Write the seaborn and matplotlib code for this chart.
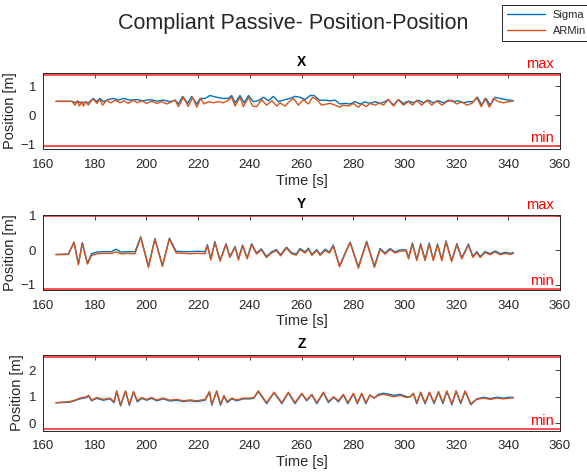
import matplotlib
matplotlib.use("Agg")
import matplotlib.pyplot as plt
import seaborn as sns
import pandas as pd

# ---------------- data ----------------
series_names = ["Sigma", "ARMin"]
panel_titles = ["X", "Y", "Z"]
x_ticks = [160, 180, 200, 220, 240, 260, 280, 300, 320, 340, 360]

# X panel
sigma_x_t = [165, 171.0, 172.5, 173.8, 175.0, 176.3, 177.5, 178.5, 179.5, 180.8, 182.0, 183.3, 185.3, 187.2,
             189.1, 191.1, 193.7, 196.2, 198.8, 201.4, 204.0, 206.6, 209.1, 211.1, 212.4, 214.0, 216.0, 217.5,
             219.5, 220.8, 222.7, 224.6, 227.2, 229.8, 231.7, 233.0, 234.3, 236.2, 237.8, 239.5, 241.4, 243.3,
             245.3, 247.2, 249.1, 251.1, 253.6, 255.6, 257.5, 259.4, 261.4, 263.3, 264.9, 266.9, 269.1, 271.1,
             273.0, 274.9, 276.9, 278.8, 280.7, 282.7, 284.6, 286.5, 288.5, 290.4, 292.3, 293.6, 295.6, 297.5,
             299.4, 301.4, 303.3, 305.2, 307.2, 309.1, 311.0, 313.0, 314.9, 316.9, 318.8, 320.7, 322.7, 324.6,
             326.5, 328.1, 329.7, 331.4, 333.0, 334.9, 336.9, 338.8, 340.7, 342.0]
sigma_x = [0.48, 0.48, 0.44, 0.47, 0.42, 0.46, 0.43, 0.50, 0.58, 0.47, 0.58, 0.47, 0.54, 0.58,
           0.52, 0.58, 0.52, 0.54, 0.50, 0.54, 0.49, 0.52, 0.47, 0.52, 0.39, 0.65, 0.41, 0.65,
           0.39, 0.58, 0.58, 0.68, 0.62, 0.58, 0.58, 0.68, 0.43, 0.68, 0.43, 0.68, 0.47, 0.50,
           0.62, 0.50, 0.65, 0.47, 0.54, 0.58, 0.65, 0.62, 0.54, 0.68, 0.68, 0.52, 0.52, 0.50,
           0.52, 0.39, 0.41, 0.39, 0.47, 0.39, 0.46, 0.41, 0.47, 0.41, 0.47, 0.54, 0.35, 0.54,
           0.41, 0.49, 0.43, 0.52, 0.43, 0.52, 0.43, 0.50, 0.43, 0.52, 0.47, 0.50, 0.43, 0.47,
           0.47, 0.62, 0.35, 0.58, 0.35, 0.62, 0.58, 0.54, 0.52, 0.50]
armin_x_t = [165, 171.1, 172.4, 173.3, 174.1, 175.0, 175.6, 176.6, 177.5, 178.8, 179.7, 180.8, 182.0, 183.1,
             184.6, 186.2, 187.9, 189.8, 191.3, 193.0, 195.0, 196.5, 198.2, 200.1, 202.0, 204.0, 205.9, 207.9,
             209.8, 211.1, 212.4, 214.3, 216.2, 217.9, 219.5, 221.0, 222.3, 224.0, 225.9, 227.8, 229.8, 231.7,
             233.0, 234.3, 236.2, 237.5, 239.5, 241.1, 242.7, 244.6, 246.5, 248.5, 250.4, 251.7, 253.6, 255.6,
             256.9, 258.8, 260.7, 262.7, 264.3, 265.9, 267.8, 269.8, 271.1, 273.0, 274.7, 276.2, 278.2, 280.1,
             282.0, 283.3, 285.0, 286.5, 288.5, 290.1, 291.7, 293.6, 295.6, 297.5, 299.4, 301.4, 303.0, 304.6,
             306.5, 308.5, 310.4, 312.3, 314.3, 316.2, 318.1, 320.1, 322.0, 324.0, 325.9, 327.8, 329.5, 331.0,
             332.7, 334.3, 336.2, 338.1, 340.1, 342.0]
armin_x = [0.48, 0.48, 0.35, 0.50, 0.32, 0.47, 0.32, 0.47, 0.35, 0.52, 0.54, 0.41, 0.54, 0.35,
           0.52, 0.43, 0.52, 0.43, 0.50, 0.41, 0.52, 0.43, 0.50, 0.41, 0.49, 0.41, 0.47, 0.39,
           0.47, 0.52, 0.30, 0.62, 0.30, 0.62, 0.28, 0.58, 0.39, 0.47, 0.43, 0.47, 0.43, 0.52,
           0.62, 0.32, 0.62, 0.30, 0.62, 0.32, 0.30, 0.54, 0.35, 0.50, 0.32, 0.43, 0.32, 0.50,
           0.58, 0.35, 0.54, 0.39, 0.62, 0.54, 0.35, 0.39, 0.41, 0.35, 0.28, 0.35, 0.32, 0.41,
           0.28, 0.39, 0.30, 0.41, 0.35, 0.43, 0.35, 0.54, 0.32, 0.54, 0.35, 0.47, 0.35, 0.52,
           0.35, 0.52, 0.35, 0.50, 0.35, 0.47, 0.52, 0.39, 0.47, 0.35, 0.41, 0.62, 0.30, 0.58,
           0.28, 0.58, 0.47, 0.43, 0.47, 0.50]

# Y panel
y_t = [165, 169.8, 172.0, 173.7, 175.2, 177.2, 178.8, 181.0, 184.0, 186.5, 188.2, 190.0, 193.0, 195.6,
       197.8, 200.8, 203.3, 206.2, 208.9, 211.5, 214.0, 217.0, 220.0, 222.7, 223.6, 224.9, 226.5, 228.5,
       230.8, 232.3, 234.3, 235.6, 237.2, 239.0, 240.7, 242.6, 244.5, 246.4, 248.4, 250.3, 251.9, 254.2,
       256.1, 258.0, 259.4, 261.4, 262.7, 264.0, 265.9, 267.2, 269.1, 270.8, 272.3, 274.7, 278.8, 282.0,
       285.2, 288.2, 290.4, 292.3, 294.3, 296.2, 298.1, 300.5, 301.4, 302.9, 304.6, 306.1, 307.8, 309.4,
       311.0, 312.6, 314.3, 315.9, 318.1, 320.1, 322.0, 324.6, 326.3, 327.8, 329.1, 331.0, 333.0, 334.9,
       336.9, 338.8, 340.7, 342.0]
sigma_y = [-0.12, -0.11, 0.24, -0.40, 0.22, -0.38, -0.10, -0.05, -0.04, -0.04, 0.03, -0.05, -0.04, -0.04,
           0.39, -0.46, 0.34, -0.44, 0.35, -0.03, -0.04, -0.04, -0.03, -0.04, 0.16, -0.25, 0.25, -0.29,
           0.19, -0.18, 0.11, -0.25, 0.15, -0.22, 0.19, -0.08, 0.04, -0.18, -0.05, 0.02, -0.13, 0.09,
           -0.07, -0.11, 0.05, -0.05, 0.06, -0.12, 0.02, -0.12, 0.03, -0.05, 0.15, -0.45, 0.24, -0.48,
           0.26, -0.46, 0.05, -0.08, 0.05, -0.05, 0.01, 0.01, -0.22, 0.21, -0.27, 0.19, -0.27, 0.21,
           -0.27, 0.18, -0.27, 0.27, -0.30, 0.19, -0.22, 0.18, -0.18, -0.04, -0.18, -0.04, -0.10, -0.02,
           -0.10, -0.06, -0.09, -0.07]
armin_y = [-0.13, -0.12, 0.22, -0.42, 0.20, -0.40, -0.15, -0.10, -0.09, -0.09, -0.05, -0.10, -0.09, -0.10,
           0.37, -0.50, 0.32, -0.47, 0.33, -0.08, -0.09, -0.10, -0.09, -0.10, 0.14, -0.28, 0.23, -0.32,
           0.17, -0.21, 0.09, -0.28, 0.13, -0.25, 0.17, -0.11, 0.01, -0.21, -0.08, -0.01, -0.16, 0.06,
           -0.10, -0.14, 0.02, -0.08, 0.03, -0.15, -0.01, -0.15, -0.01, -0.08, 0.12, -0.48, 0.22, -0.52,
           0.23, -0.50, 0.02, -0.11, 0.02, -0.08, -0.02, -0.02, -0.25, 0.18, -0.30, 0.16, -0.30, 0.18,
           -0.30, 0.15, -0.30, 0.24, -0.33, 0.16, -0.25, 0.15, -0.21, -0.07, -0.21, -0.07, -0.13, -0.05,
           -0.13, -0.09, -0.12, -0.09]

# Z panel
z_t = [165, 170.4, 172.5, 174.3, 176.9, 177.6, 178.8, 180.8, 183.3, 185.9, 187.5, 188.5, 190.0, 191.9,
       193.4, 195.0, 196.5, 198.2, 200.1, 202.0, 204.0, 206.6, 209.1, 211.7, 214.3, 216.9, 219.5, 222.7,
       224.4, 225.3, 227.2, 228.7, 230.0, 231.3, 233.0, 235.0, 237.5, 240.1, 241.6, 243.3, 246.5, 249.4,
       252.4, 254.9, 257.5, 260.1, 262.0, 264.0, 265.9, 268.5, 270.4, 272.4, 274.3, 276.2, 277.9, 280.1,
       281.6, 283.3, 284.9, 286.5, 288.1, 289.8, 291.7, 293.6, 295.6, 298.2, 300.7, 302.0, 303.3, 304.6,
       306.1, 307.8, 309.5, 311.3, 313.0, 314.7, 316.2, 318.2, 319.8, 321.6, 323.3, 325.5, 327.8, 330.4,
       333.0, 335.6, 338.1, 340.7, 342.0]
sigma_z = [0.77, 0.80, 0.86, 0.92, 0.97, 1.03, 0.85, 0.94, 0.87, 0.92, 0.78, 1.20, 0.66, 1.20,
           0.68, 1.18, 0.81, 0.94, 0.87, 0.94, 0.85, 0.92, 0.84, 0.87, 0.82, 0.85, 0.82, 0.87,
           1.17, 0.68, 1.20, 0.68, 1.02, 0.78, 0.92, 0.85, 0.92, 0.92, 0.95, 1.20, 0.74, 1.15,
           0.74, 1.15, 0.74, 1.11, 0.85, 1.07, 0.74, 1.15, 0.78, 0.98, 0.81, 1.07, 0.74, 1.11,
           0.74, 1.11, 0.74, 1.06, 0.95, 1.09, 1.13, 1.10, 1.05, 1.09, 1.00, 1.00, 1.11, 0.74,
           1.15, 0.74, 1.15, 0.74, 1.18, 0.74, 1.20, 0.70, 1.20, 0.74, 1.20, 0.70, 0.92, 0.98,
           0.93, 0.98, 0.95, 0.98, 0.97]
armin_z = [0.78, 0.82, 0.88, 0.95, 1.00, 1.06, 0.88, 0.97, 0.90, 0.95, 0.82, 1.22, 0.70, 1.22,
           0.72, 1.20, 0.85, 0.97, 0.90, 0.97, 0.88, 0.95, 0.87, 0.90, 0.85, 0.88, 0.85, 0.90,
           1.20, 0.72, 1.22, 0.72, 1.05, 0.82, 0.95, 0.88, 0.95, 0.95, 0.97, 1.22, 0.78, 1.17,
           0.78, 1.17, 0.78, 1.13, 0.88, 1.09, 0.78, 1.17, 0.82, 1.00, 0.85, 1.09, 0.78, 1.13,
           0.78, 1.13, 0.78, 1.07, 0.95, 1.05, 1.09, 1.05, 1.00, 1.05, 0.97, 1.00, 1.13, 0.78,
           1.17, 0.78, 1.17, 0.78, 1.20, 0.78, 1.22, 0.74, 1.22, 0.78, 1.22, 0.74, 0.90, 0.95,
           0.90, 0.95, 0.92, 0.95, 0.96]

# limits (max / min) and axis ranges per panel
limit_max = [1.37, 0.98, 2.47]
limit_min = [-1.05, -1.12, -0.21]
y_ranges = [(-1.15, 1.45), (-1.15, 1.02), (-0.27, 2.55)]
y_ticks = [[-1, 0, 1], [-1, 0, 1], [0, 1, 2]]
show_max_label = [True, True, False]

# ---------------- style ----------------
sns.set_theme(style="white")
plt.rcParams["font.family"] = ["Liberation Sans", "DejaVu Sans"]

BLUE = "#0072BD"
ORANGE = "#D95319"
DARK = "#262626"
RED = "#ff3030"

fig = plt.figure(figsize=(5.87, 4.75), dpi=100)

axes_rects = [
    (43 / 587, 1 - 149 / 475, 517 / 587, 76 / 475),
    (43 / 587, 1 - 290 / 475, 517 / 587, 75 / 475),
    (43 / 587, 1 - 430.7 / 475, 517 / 587, 75.4 / 475),
]

sig_data = [(sigma_x_t, sigma_x), (y_t, sigma_y), (z_t, sigma_z)]
arm_data = [(armin_x_t, armin_x), (y_t, armin_y), (z_t, armin_z)]

handles = None
for i in range(3):
    ax = fig.add_axes(axes_rects[i])
    df_s = pd.DataFrame({"Time": sig_data[i][0], "Position": sig_data[i][1]})
    df_a = pd.DataFrame({"Time": arm_data[i][0], "Position": arm_data[i][1]})
    sns.lineplot(data=df_s, x="Time", y="Position", ax=ax, color=BLUE, lw=1.0,
                 estimator=None, sort=False, label=series_names[0], legend=False,
                 solid_joinstyle="round", solid_capstyle="round")
    sns.lineplot(data=df_a, x="Time", y="Position", ax=ax, color=ORANGE, lw=1.0,
                 estimator=None, sort=False, label=series_names[1], legend=False,
                 solid_joinstyle="round", solid_capstyle="round")
    if handles is None:
        handles = list(ax.get_lines())
    ax.axhline(limit_max[i], color=RED, lw=1.2)
    ax.axhline(limit_min[i], color=RED, lw=1.2)

    ax.set_xlim(160, 360)
    ax.set_ylim(*y_ranges[i])
    ax.set_xticks(x_ticks)
    ax.set_yticks(y_ticks[i])
    ax.tick_params(direction="in", top=True, right=True, length=3.5, width=0.6,
                   colors=DARK, labelsize=9.5, pad=5)
    ax.tick_params(axis="x", pad=7)
    for sp in ax.spines.values():
        sp.set_linewidth(0.7)
        sp.set_color(DARK)
    ax.set_xlabel("Time [s]", fontsize=10.5, color=DARK, labelpad=2)
    ax.set_ylabel("Position [m]", fontsize=10.5, color=DARK, labelpad=3)
    ax.set_title(panel_titles[i], fontsize=10, fontweight="bold", pad=5, color="black")

    if show_max_label[i]:
        ax.annotate("max", xy=(357.5, limit_max[i]), xytext=(0, 3), textcoords="offset points",
                    ha="right", va="bottom", color="#ff0000", fontsize=10.5, annotation_clip=False)
    ax.annotate("min", xy=(357.5, limit_min[i]), xytext=(0, 0.5), textcoords="offset points",
                ha="right", va="bottom", color="#ff0000", fontsize=10.5, annotation_clip=False)

fig.text(293 / 587, 1 - 24 / 475, "Compliant Passive- Position-Position", ha="center", va="center",
         fontsize=15.5, color=DARK)

leg = fig.legend(handles, series_names, loc="upper left", bbox_to_anchor=(502 / 587, 1 - 4.5 / 475),
                 fontsize=8, frameon=True, fancybox=False, framealpha=1, edgecolor=DARK,
                 handlelength=3.4, handletextpad=0.7, labelspacing=0.55, borderpad=0.45,
                 borderaxespad=0)
leg.get_frame().set_linewidth(0.7)

fig.savefig("out.png", dpi=100, facecolor="white")
